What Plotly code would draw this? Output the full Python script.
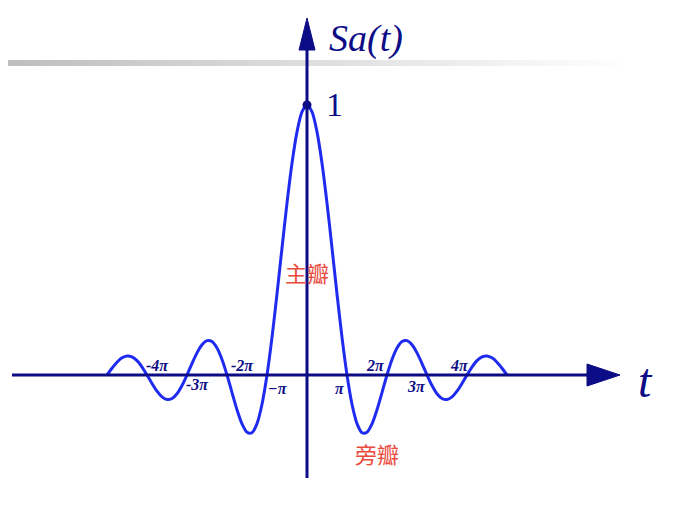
import plotly.graph_objects as go
import math

PI = math.pi
# samples of Sa(t) at t = k*pi/8, k = 0..40 (curve is symmetric)
sa_pos = [1.0, 0.9745, 0.9003, 0.7842, 0.6366, 0.4705, 0.3001, 0.1392, 0.0,
          -0.1083, -0.1801, -0.2139, -0.2122, -0.1810, -0.1286, -0.0650, 0.0,
          0.0573, 0.1000, 0.1238, 0.1273, 0.1120, 0.0818, 0.0424, 0.0,
          -0.0390, -0.0693, -0.0871, -0.0909, -0.0811, -0.0600, -0.0314, 0.0,
          0.0295, 0.0530, 0.0672, 0.0707, 0.0636, 0.0474, 0.0250, 0.0]
k_steps = list(range(len(sa_pos)))

tick_labels = ["-4π", "-3π", "-2π", "−π", "π", "2π", "3π", "4π"]
tick_mult = [-4, -3, -2, -1, 1, 2, 3, 4]

t_vals = [-k * PI / 8 for k in reversed(k_steps[1:])] + [k * PI / 8 for k in k_steps]
y_vals = list(reversed(sa_pos[1:])) + sa_pos

W, H = 684, 506
OFF = 8            # page body margin
X0PX, Y0PX = 307, 375
PXX = 40 / PI      # px per unit t
PXY = 270          # px per unit y

def dx(px):
    return (px - X0PX) / PXX

def dy(py):
    return (Y0PX - py) / PXY

NAVY = "#0c0c86"
BLUE = "#1f2cf0"
RED = "#ea4a3c"

fig = go.Figure()
fig.add_trace(go.Scatter(x=t_vals, y=y_vals, mode="lines",
                         line=dict(color=BLUE, width=3, shape="spline", smoothing=0.8),
                         hoverinfo="skip"))
fig.add_trace(go.Scatter(x=[0], y=[1], mode="markers",
                         marker=dict(color=NAVY, size=9), hoverinfo="skip"))

shapes = []
# gradient gray bar
N = 60
for i in range(N):
    f = i / N
    c = int(190 + (255 - 190) * f)
    shapes.append(dict(type="rect", xref="x", yref="y",
                       x0=dx(i * 620 / N), x1=dx((i + 1) * 620 / N + 0.5),
                       y0=dy(66), y1=dy(60),
                       fillcolor=f"rgb({c},{c},{c})", line=dict(width=0), layer="below"))
# axes
shapes.append(dict(type="line", x0=dx(12), x1=dx(590), y0=0, y1=0,
                   line=dict(color=NAVY, width=3)))
shapes.append(dict(type="line", x0=0, x1=0, y0=dy(478), y1=dy(48),
                   line=dict(color=NAVY, width=3)))
# arrowheads
shapes.append(dict(type="path",
                   path=f"M {dx(587)},{dy(364)} L {dx(620)},{dy(375)} L {dx(587)},{dy(386)} Z",
                   fillcolor=NAVY, line=dict(color=NAVY, width=1)))
shapes.append(dict(type="path",
                   path=f"M {dx(299)},{dy(50)} L {dx(307)},{dy(18)} L {dx(315)},{dy(50)} Z",
                   fillcolor=NAVY, line=dict(color=NAVY, width=1)))

ann = []
def txt(xp, yp, s, size, color=NAVY, family="Liberation Serif", anchor="center"):
    ann.append(dict(x=dx(xp), y=dy(yp), text=s, showarrow=False, xanchor=anchor,
                    yanchor="middle", font=dict(size=size, color=color, family=family)))

txt(327, 38, "<i>Sa(t)</i>", 38, anchor="left")
txt(324, 104, "1", 34, anchor="left")
txt(645, 380, "<i>t</i>", 48)

label_pos = {-4: (157, 365), -3: (197, 384), -2: (242, 365), -1: (278, 388),
             1: (340, 388), 2: (375, 365), 3: (416, 386), 4: (459, 365)}
for m, lab in zip(tick_mult, tick_labels):
    xp, yp = label_pos[m]
    txt(xp, yp, f"<b><i>{lab}</i></b>", 16)

txt(307, 272, "主瓣", 22, color=RED, family="Noto Sans CJK SC")
txt(377, 453, "旁瓣", 22, color=RED, family="Noto Sans CJK SC")

fig.update_layout(
    width=W, height=H, margin=dict(l=0, r=0, t=0, b=0),
    paper_bgcolor="white", plot_bgcolor="white", showlegend=False,
    xaxis=dict(range=[dx(OFF), dx(W + OFF)], visible=False, fixedrange=True),
    yaxis=dict(range=[dy(H + OFF), dy(OFF)], visible=False, fixedrange=True),
    shapes=shapes, annotations=ann,
)
fig.write_html("out.html")
